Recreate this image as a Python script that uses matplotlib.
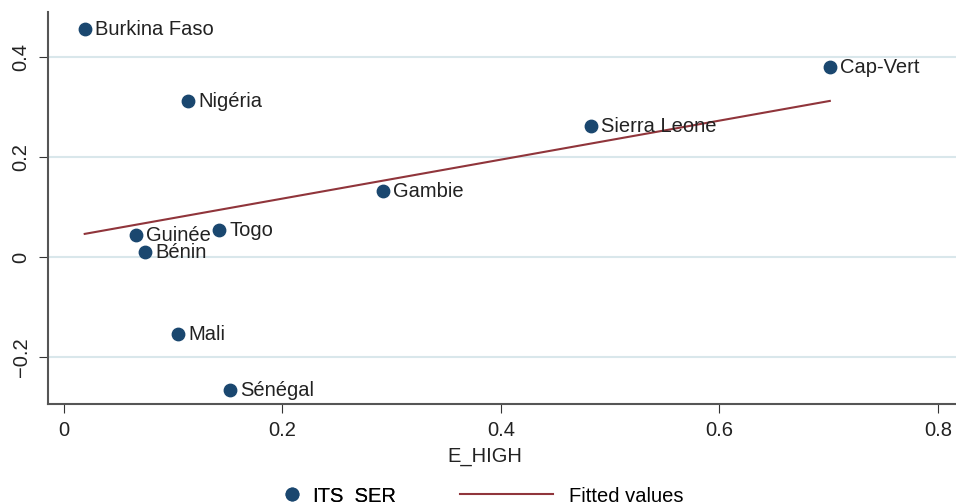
import numpy as np
import matplotlib
matplotlib.use("Agg")
import matplotlib.pyplot as plt
from matplotlib.lines import Line2D

plt.rcParams['font.family'] = ['Liberation Sans', 'DejaVu Sans']

countries = ["Burkina Faso", "Nigéria", "Cap-Vert", "Sierra Leone", "Gambie",
             "Togo", "Guinée", "Bénin", "Mali", "Sénégal"]
e_high = [0.019, 0.1135, 0.701, 0.482, 0.292, 0.142, 0.066, 0.074, 0.104, 0.152]
its_ser = [0.456, 0.312, 0.380, 0.262, 0.132, 0.054, 0.044, 0.010, -0.154, -0.266]

xticks = [0, 0.2, 0.4, 0.6, 0.8]
yticks = [-0.2, 0, 0.2, 0.4]

navy = "#1a476f"
maroon = "#90353b"
fs = 14.5

fig = plt.figure(figsize=(9.56, 5.04), dpi=100)
ax = fig.add_axes([48/956, 100/504, 908/956, 392/504])

x = np.array(e_high)
y = np.array(its_ser)
b, a = np.polyfit(x, y, 1)
xs = np.array([x.min(), x.max()])

ax.scatter(x, y, s=80, color=navy, zorder=3)
ax.plot(xs, a + b * xs, color=maroon, lw=1.5, zorder=2)

for name, xi, yi in zip(countries, x, y):
    ax.annotate(name, (xi, yi), xytext=(7.5, 0), textcoords="offset points",
                va="center", ha="left", fontsize=fs, color="#222222", zorder=4)

ax.set_xlim(-0.0146, 0.8165)
ax.set_ylim(-0.294, 0.491)
ax.set_xticks(xticks)
ax.set_xticklabels(["0", "0.2", "0.4", "0.6", "0.8"])
ax.set_yticks(yticks)
ax.set_yticklabels(["\u22120.2", "0", "0.2", "0.4"], rotation=90, va="center")
ax.tick_params(axis="both", labelsize=fs, length=6.5, width=0.8, color="#333333",
               labelcolor="#222222", pad=6)
ax.grid(axis="y", color="#d9e7eb", lw=1.5, zorder=0)
ax.set_axisbelow(True)
for side in ["top", "right"]:
    ax.spines[side].set_visible(False)
for side in ["left", "bottom"]:
    ax.spines[side].set_color("#555555")
    ax.spines[side].set_linewidth(1.5)

ax.set_xlabel("E_HIGH", fontsize=fs, color="#222222", va="center")
ax.xaxis.set_label_coords(0.481, -0.133)

h1 = Line2D([], [], marker="o", ls="none", color=navy, markersize=9)
h2 = Line2D([], [], color=maroon, lw=1.5)
leg1 = fig.legend([h1], ["ITS_SER"], loc="center left", bbox_to_anchor=(264/956, 8/504),
                  frameon=False, fontsize=fs, handlelength=1.0, handletextpad=0.5)
fig.legend([h2], ["Fitted values"], loc="center left", bbox_to_anchor=(442/956, 8/504),
           frameon=False, fontsize=fs, handlelength=4.6, handletextpad=0.8)
fig.add_artist(leg1)

fig.savefig("out.png", dpi=100)
